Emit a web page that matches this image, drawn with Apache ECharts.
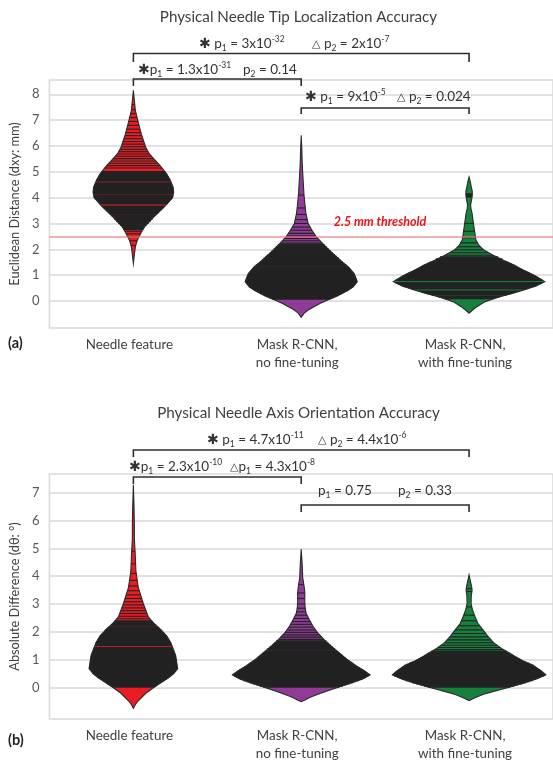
<!DOCTYPE html>
<html><head><meta charset="utf-8">
<script src="https://cdn.jsdelivr.net/npm/echarts@6/dist/echarts.min.js"></script>
<style>html,body{margin:0;padding:0;background:#fff}#c{width:553px;height:763px}</style>
</head><body><div id="c"></div>
<script>
const categories = ['Needle feature', 'Mask R-CNN,\nno fine-tuning', 'Mask R-CNN,\nwith fine-tuning'];
const titleTip = 'Physical Needle Tip Localization Accuracy';
const titleAxis = 'Physical Needle Axis Orientation Accuracy';
const yNameTip = 'Euclidean Distance (dxy: mm)';
const yNameAxis = 'Absolute Difference (d\u03b8: \u00b0)';
const tipTicks = [0, 1, 2, 3, 4, 5, 6, 7, 8];
const axisTicks = [0, 1, 2, 3, 4, 5, 6, 7];
const threshold = 2.5;
const thresholdLabel = '2.5 mm threshold';

// violin outlines: [value, relative half width (fraction of category band)]
const tipNeedleShape = [[8.15,0],[7.76,0.006],[7.37,0.012],[7.0,0.026],[6.47,0.047],[5.96,0.073],[5.7,0.094],[5.45,0.129],[5.25,0.158],[5.06,0.182],[4.9,0.2],[4.67,0.22],[4.4,0.237],[4.22,0.24],[4.0,0.234],[3.9,0.22],[3.7,0.193],[3.5,0.161],[3.3,0.129],[3.12,0.103],[2.9,0.07],[2.73,0.053],[2.35,0.023],[2.1,0.012],[1.8,0.006],[1.45,0]];
const tipMaskShape = [[6.41,0],[5.8,0.004],[5.32,0.006],[4.6,0.012],[4.16,0.016],[3.8,0.021],[3.39,0.028],[3.0,0.041],[2.74,0.064],[2.5,0.088],[2.23,0.127],[1.95,0.17],[1.71,0.211],[1.5,0.246],[1.32,0.281],[1.05,0.316],[0.75,0.334],[0.55,0.31],[0.42,0.281],[0.2,0.217],[0.04,0.158],[-0.1,0.111],[-0.22,0.076],[-0.35,0.041],[-0.47,0.018],[-0.63,0]];
const tipTunedShape = [[4.8,0],[4.6,0.008],[4.42,0.013],[4.25,0.019],[4.09,0.019],[3.92,0.015],[3.71,0.009],[3.55,0.012],[3.39,0.018],[2.87,0.029],[2.36,0.041],[2.15,0.059],[1.97,0.088],[1.78,0.141],[1.58,0.205],[1.4,0.264],[1.2,0.322],[0.98,0.393],[0.75,0.451],[0.58,0.398],[0.42,0.322],[0.25,0.234],[0.12,0.158],[-0.05,0.088],[-0.22,0.047],[-0.35,0.021],[-0.47,0]];
const axNeedleShape = [[7.29,0],[6.5,0.004],[5.8,0.006],[5.36,0.006],[4.8,0.011],[4.19,0.015],[3.6,0.029],[3.02,0.059],[2.55,0.088],[2.3,0.123],[2.08,0.164],[1.85,0.199],[1.61,0.223],[1.15,0.252],[0.68,0.264],[0.5,0.24],[0.33,0.205],[0.15,0.158],[-0.02,0.117],[-0.2,0.076],[-0.37,0.047],[-0.5,0.026],[-0.61,0.012],[-0.75,0]];
const axMaskShape = [[4.97,0],[4.4,0.006],[3.95,0.009],[3.6,0.018],[3.37,0.022],[3.1,0.021],[2.9,0.023],[2.67,0.029],[2.45,0.047],[2.2,0.07],[1.95,0.1],[1.73,0.135],[1.5,0.176],[1.26,0.223],[1.0,0.275],[0.8,0.322],[0.6,0.375],[0.45,0.41],[0.3,0.363],[0.15,0.293],[0,0.217],[-0.14,0.146],[-0.27,0.088],[-0.37,0.047],[-0.45,0.023],[-0.51,0]];
const axTunedShape = [[4.05,0],[3.8,0.009],[3.6,0.016],[3.49,0.018],[3.3,0.013],[3.02,0.012],[2.8,0.02],[2.55,0.035],[2.3,0.053],[2.08,0.082],[1.85,0.111],[1.61,0.146],[1.38,0.199],[1.15,0.264],[0.95,0.322],[0.8,0.381],[0.6,0.428],[0.45,0.457],[0.3,0.398],[0.15,0.322],[0,0.234],[-0.14,0.146],[-0.25,0.082],[-0.37,0.035],[-0.47,0]];

// individual measurements (drawn as lines across each violin)
const tipNeedleValues = [7.6,7.4,7.25,7.1,6.95,6.8,6.65,6.52,6.4,6.28,6.17,6.07,5.97,5.87,5.78,5.69,5.6,5.51,5.42,5.33,5.24,5.15,
  5.0,4.97,4.94,4.91,4.88,4.85,4.82,4.79,4.76,4.73,4.7,4.67,4.64,4.57,4.54,4.51,4.48,4.45,4.42,4.39,4.36,4.33,4.3,4.27,4.24,4.21,4.18,4.15,4.09,4.06,4.03,4.0,3.97,3.94,3.91,3.88,3.85,3.82,3.79,3.76,3.67,3.64,3.61,3.58,3.55,3.52,3.49,3.46,3.43,3.4,3.37,
  3.3,3.2,3.12,3.04,2.96,2.88,2.8,2.7,2.6,2.48,2.33,2.15];
const tipMaskValues = [4.1,3.6,3.35,3.15,3.0,2.86,2.74,2.62,2.52,2.42,2.33,2.24,2.15,2.07,1.99,1.91,1.84,1.77,1.7,1.63,1.56,1.49,1.43,1.37,
  1.31,1.28,1.25,1.22,1.19,1.16,1.13,1.1,1.07,1.04,1.01,0.98,0.95,0.92,0.89,0.86,0.83,0.8,0.77,0.74,0.71,0.68,0.65,0.62,0.59,0.56,0.53,0.5,0.47,0.44,0.41,0.38,0.35,0.32,0.29,0.26,0.23,0.2,0.17,0.14,0.11,0.08];
const tipTunedValues = [4.12,4.05,3.0,2.7,2.45,2.25,2.1,1.98,1.87,1.77,1.68,1.6,
  1.52,1.49,1.46,1.43,1.4,1.37,1.34,1.31,1.28,1.25,1.22,1.19,1.16,1.13,1.1,1.07,1.04,1.01,0.98,0.95,0.92,0.89,0.86,0.83,0.8,0.71,0.68,0.65,0.62,0.59,0.56,0.53,0.5,0.47,0.38,0.35,0.32,0.29,0.26,0.23,0.16,0.13,0.1];
const axNeedleValues = [4.9,4.45,4.1,3.85,3.65,3.48,3.33,3.2,3.08,2.97,2.86,2.76,2.66,2.56,2.47,
  2.38,2.34,2.3,2.26,2.22,2.15,2.11,2.07,2.03,1.96,1.92,1.88,1.84,1.8,1.76,1.72,1.68,1.64,1.6,1.56,1.52,1.42,1.38,1.34,1.3,1.26,1.22,1.18,1.14,1.1,1.06,1.02,0.98,0.94,0.9,0.86,0.82,0.78,0.74,0.7,0.66,0.62,0.58,0.54,0.5,0.46,0.42,0.38,0.34,0.3,0.26,0.22,0.18,0.14,0.1,0.06,0.02];
const axMaskValues = [3.7,3.4,3.2,3.0,2.85,2.72,2.6,2.48,2.37,2.27,2.17,2.07,1.98,1.89,1.81,1.73,1.65,1.58,1.51,1.44,1.37,
  1.3,1.26,1.22,1.18,1.14,1.1,1.06,1.02,0.98,0.94,0.9,0.86,0.82,0.78,0.74,0.7,0.66,0.62,0.58,0.54,0.5,0.46,0.42,0.38,0.34,0.3,0.26,0.22,0.18,0.14,0.1,0.06,0.02];
const axTunedValues = [3.55,3.45,2.9,2.6,2.4,2.22,2.07,1.94,1.82,1.71,1.61,1.52,1.44,1.36,1.28,
  1.22,1.18,1.14,1.1,1.06,1.02,0.98,0.94,0.9,0.86,0.82,0.78,0.74,0.7,0.66,0.62,0.58,0.54,0.5,0.46,0.42,0.38,0.34,0.3,0.26,0.22,0.18,0.14,0.1,0.06,0.02];

const violinColors = ['#ec1c24', '#913b98', '#16813c'];
const FONT = 'Lato, "Open Sans", sans-serif';

function halfWidthAt(shape, v) {
  for (let k = 0; k < shape.length - 1; k++) {
    const a = shape[k], b = shape[k + 1];
    const lo = Math.min(a[0], b[0]), hi = Math.max(a[0], b[0]);
    if (v >= lo && v <= hi) {
      const t = (v - a[0]) / (b[0] - a[0]);
      return a[1] + t * (b[1] - a[1]);
    }
  }
  return 0;
}

function makeRender(shapes, values) {
  return function (params, api) {
    const i = api.value(0);
    const shape = shapes[i];
    const vals = values[i].slice().sort(function (a, b) { return a - b; });
    const band = api.size([1, 1], [i, 0])[0];
    const c = api.coord([i, 0])[0];
    const right = [], left = [];
    shape.forEach(function (p) {
      const y = api.coord([i, p[0]])[1];
      right.push([c + p[1] * band, y]);
      left.unshift([c - p[1] * band, y]);
    });
    const pts = right.concat(left);
    const children = [{ type: 'polygon', shape: { points: pts }, style: { fill: violinColors[i], stroke: 'none' } }];
    const ys = vals.map(function (v) { return api.coord([i, v])[1]; });
    vals.forEach(function (v, k) {
      const w = halfWidthAt(shape, v) * band;
      if (w <= 0) return;
      const y = ys[k];
      let gap = Infinity;
      if (k > 0) gap = Math.min(gap, Math.abs(ys[k - 1] - y));
      if (k < ys.length - 1) gap = Math.min(gap, Math.abs(ys[k + 1] - y));
      const lw = gap < 2.2 ? gap + 0.75 : 1.1;
      children.push({ type: 'line', shape: { x1: c - w, y1: y, x2: c + w, y2: y }, style: { stroke: '#222', lineWidth: lw } });
    });
    children.push({ type: 'polygon', shape: { points: pts }, style: { fill: 'none', stroke: '#2a2a2a', lineWidth: 1.1 } });
    return { type: 'group', children: children };
  };
}

const chart = echarts.init(document.getElementById('c'));
function xAxisDef(gi) {
  return {
    type: 'category', gridIndex: gi, data: categories, boundaryGap: true,
    axisLine: { show: false }, axisTick: { show: false },
    axisLabel: { color: '#404040', fontFamily: FONT, fontSize: 13.4, lineHeight: 18, margin: 8, padding: [0, 8, 0, 0] }
  };
}
function yAxisDef(gi, name, ticks, min, max) {
  return {
    type: 'value', gridIndex: gi, min: min, max: max, name: name, nameLocation: 'middle', nameGap: 20,
    nameTextStyle: { color: '#404040', fontFamily: FONT, fontSize: 12.8 },
    axisLine: { show: false },
    axisTick: { show: false, customValues: ticks },
    axisLabel: { customValues: ticks, color: '#595959', fontFamily: FONT, fontSize: 13, margin: 10 },
    splitLine: { show: true, lineStyle: { color: '#d9d9d9', width: 1.5 } }
  };
}

const option = {
  animation: false,
  backgroundColor: '#fff',
  grid: [
    { left: 44, top: 80, width: 512, height: 248, show: true, borderColor: '#d9d9d9', borderWidth: 1.5, backgroundColor: 'transparent' },
    { left: 44, top: 474, width: 512, height: 251, show: true, borderColor: '#d9d9d9', borderWidth: 1.5, backgroundColor: 'transparent' }
  ],
  xAxis: [xAxisDef(0), xAxisDef(1)],
  yAxis: [yAxisDef(0, yNameTip, tipTicks, -1.045, 8.553), yAxisDef(1, yNameAxis, axisTicks, -1.134, 7.677)],
  series: [
    {
      type: 'custom', xAxisIndex: 0, yAxisIndex: 0, z: 3, data: [[0], [1], [2]],
      renderItem: makeRender([tipNeedleShape, tipMaskShape, tipTunedShape], [tipNeedleValues, tipMaskValues, tipTunedValues])
    },
    {
      type: 'custom', xAxisIndex: 1, yAxisIndex: 1, z: 3, data: [[0], [1], [2]],
      renderItem: makeRender([axNeedleShape, axMaskShape, axTunedShape], [axNeedleValues, axMaskValues, axTunedValues])
    },
    {
      type: 'line', xAxisIndex: 0, yAxisIndex: 0, z: 5, data: [], silent: true,
      markLine: { silent: true, symbol: 'none', label: { show: false },
        lineStyle: { color: 'rgba(238,120,120,0.8)', width: 1.5, type: 'solid' },
        data: [{ yAxis: threshold }] }
    }
  ]
};
chart.setOption(option);

const cx = [0, 1, 2].map(function (k) { return chart.convertToPixel({ xAxisIndex: 0 }, k); });
const thrY = chart.convertToPixel({ yAxisIndex: 0 }, threshold);

const rich = {
  s: { fontSize: 14, fontFamily: 'DejaVu Sans', fontWeight: 'bold', fill: '#333', verticalAlign: 'middle', lineHeight: 18 },
  r: { fontSize: 11, fontFamily: 'DejaVu Sans', fill: '#333', verticalAlign: 'middle', lineHeight: 18 },
  b: { fontSize: 8.5, fontFamily: FONT, fill: '#333', verticalAlign: 'bottom', lineHeight: 10 },
  t: { fontSize: 8.5, fontFamily: FONT, fill: '#333', verticalAlign: 'top', lineHeight: 10 }
};
function ann(x, y, txt) {
  return { type: 'text', x: x, y: y, silent: true, style: { text: txt, rich: rich, fill: '#333', font: '13.5px ' + FONT, textVerticalAlign: 'middle', textAlign: 'left', lineHeight: 18 } };
}
function bracket(x1, x2, y, drop) {
  return { type: 'polyline', silent: true, shape: { points: [[x1, y + drop], [x1, y], [x2, y], [x2, y + drop]] }, style: { stroke: '#2e2e2e', lineWidth: 1.6, fill: 'none' } };
}
function titleText(y, txt) {
  return { type: 'text', x: 298.5, y: y, silent: true, style: { text: txt, fill: '#404040', font: '15.2px ' + FONT, textAlign: 'center', textVerticalAlign: 'middle' } };
}
function panelTag(y, txt) {
  return { type: 'text', x: 8, y: y, silent: true, style: { text: txt, fill: '#222', font: 'bold 14.5px ' + FONT, textAlign: 'left', textVerticalAlign: 'middle' } };
}

chart.setOption({
  graphic: [
    titleText(17, titleTip),
    titleText(413, titleAxis),
    panelTag(343, '(a)'),
    panelTag(740, '(b)'),
    { type: 'text', x: 380, y: thrY - 14, silent: true, z: 10, style: { text: thresholdLabel, fill: '#e8141c', font: 'italic bold 12.5px ' + FONT, textAlign: 'center', textVerticalAlign: 'middle' } },
    bracket(cx[0], cx[2], 53.5, 8.5),
    bracket(cx[0], cx[1], 79, 7),
    bracket(cx[1], cx[2], 108, 6),
    ann(199, 44, '{s|\u2731} p{b|1} = 3x10{t|-32}'),
    ann(312, 44, '{r|\u25b3} p{b|2} = 2x10{t|-7}'),
    ann(138, 70, '{s|\u2731}p{b|1} = 1.3x10{t|-31}'),
    ann(243, 70, 'p{b|2} = 0.14'),
    ann(305, 97, '{s|\u2731} p{b|1} = 9x10{t|-5}'),
    ann(397, 97, '{r|\u25b3} p{b|2} = 0.024'),
    bracket(cx[0], cx[2], 450, 7),
    bracket(cx[0], cx[1], 477, 7),
    bracket(cx[1], cx[2], 505, 7),
    ann(207, 440, '{s|\u2731} p{b|1} = 4.7x10{t|-11}'),
    ann(318, 440, '{r|\u25b3} p{b|2} = 4.4x10{t|-6}'),
    ann(129, 467, '{s|\u2731}p{b|1} = 2.3x10{t|-10}'),
    ann(230, 467, '{r|\u25b3}p{b|1} = 4.3x10{t|-8}'),
    ann(318, 491, 'p{b|1} = 0.75'),
    ann(398, 491, 'p{b|2} = 0.33')
  ]
});
</script></body></html>
